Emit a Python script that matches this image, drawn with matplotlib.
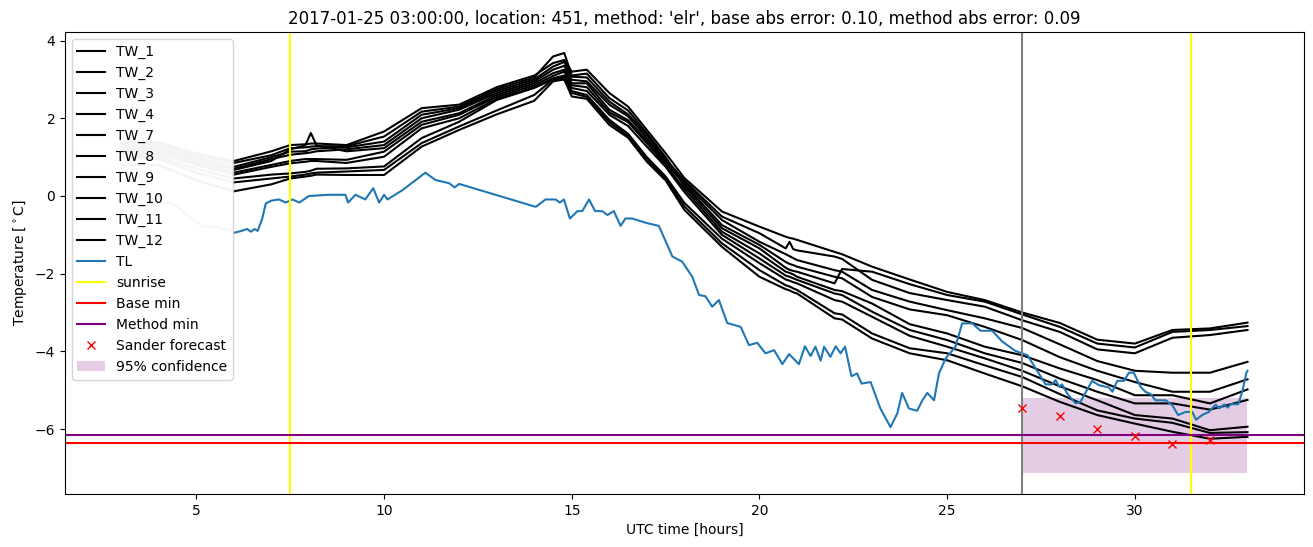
import matplotlib
matplotlib.use("Agg")
import matplotlib.pyplot as plt
import numpy as np

# ---------------- data ----------------
tw_hours = [3, 4, 5, 6, 7, 7.5, 7.9, 8.05, 8.2, 9, 10, 11, 12, 13, 14, 14.5, 14.8, 15, 15.4,
            16, 16.5, 17, 17.5, 18, 19, 20, 20.7, 20.8, 20.9, 21, 22, 22.2, 23, 24, 25, 26,
            27, 28, 29, 30, 31, 32, 33]

tw_1 = [1.40, 1.38, 1.10, 0.90, 1.15, 1.31, 1.33, 1.35, 1.35, 1.31, 1.66, 2.26, 2.35, 2.80, 3.10, 3.42, 3.50, 3.20, 3.25,
        2.65, 2.30, 1.70, 1.10, 0.46, -0.40, -0.79, -1.05, -1.08, -1.10, -1.13, -1.44, -1.50, -1.82, -2.15, -2.47, -2.68,
        -3.00, -3.27, -3.70, -3.80, -3.45, -3.41, -3.26]
tw_2 = [1.35, 1.33, 1.05, 0.85, 1.05, 1.23, 1.25, 1.27, 1.28, 1.28, 1.53, 2.17, 2.30, 2.75, 3.05, 3.59, 3.68, 3.10, 3.15,
        2.52, 2.20, 1.62, 1.00, 0.25, -0.83, -1.35, -1.85, -1.90, -1.93, -1.95, -2.25, -1.88, -1.95, -2.27, -2.55, -2.72,
        -3.05, -3.37, -3.80, -3.90, -3.50, -3.45, -3.35]
tw_3 = [1.30, 1.28, 1.00, 0.75, 1.00, 1.14, 1.15, 1.20, 1.22, 1.25, 1.40, 2.09, 2.26, 2.70, 3.00, 3.33, 3.45, 3.07, 3.05,
        2.43, 2.10, 1.57, 0.95, 0.40, -0.53, -0.96, -1.35, -1.18, -1.37, -1.40, -1.56, -1.62, -2.16, -2.50, -2.68, -2.85,
        -3.20, -3.50, -3.95, -4.05, -3.65, -3.58, -3.45]
tw_4 = [1.25, 1.22, 0.95, 0.70, 0.95, 1.06, 1.10, 1.12, 1.15, 1.20, 1.31, 2.00, 2.22, 2.65, 2.95, 3.25, 3.35, 2.99, 2.95,
        2.35, 2.05, 1.49, 0.90, 0.35, -0.62, -1.18, -1.50, -1.55, -1.60, -1.65, -1.91, -1.95, -2.42, -2.72, -2.94, -3.15,
        -3.40, -3.82, -4.25, -4.50, -4.55, -4.55, -4.27]
tw_7 = [1.20, 1.17, 0.90, 0.67, 0.90, 1.20, 1.30, 1.62, 1.30, 1.15, 1.23, 1.91, 2.13, 2.60, 2.90, 3.16, 3.25, 2.90, 2.90,
        2.22, 1.95, 1.42, 0.85, 0.30, -0.75, -1.26, -1.70, -1.75, -1.78, -1.82, -2.08, -2.12, -2.60, -2.92, -3.07, -3.37,
        -3.71, -4.15, -4.50, -4.79, -5.04, -5.04, -4.72]
tw_8 = [1.15, 1.12, 0.85, 0.60, 0.80, 0.90, 0.95, 0.95, 0.95, 0.93, 1.14, 1.83, 2.09, 2.55, 2.85, 3.09, 3.20, 2.85, 2.80,
        2.15, 1.90, 1.36, 0.80, 0.18, -0.92, -1.48, -1.95, -1.98, -2.02, -2.08, -2.42, -2.45, -2.77, -3.30, -3.54, -3.88,
        -4.10, -4.44, -4.74, -5.13, -5.13, -5.34, -4.98]
tw_9 = [1.10, 1.07, 0.80, 0.55, 0.75, 0.84, 0.88, 0.90, 0.90, 0.85, 1.01, 1.74, 2.00, 2.50, 2.80, 3.03, 3.10, 2.78, 2.70,
        2.09, 1.80, 1.27, 0.75, 0.10, -1.00, -1.61, -2.05, -2.08, -2.12, -2.16, -2.51, -2.55, -2.98, -3.45, -3.71, -4.05,
        -4.30, -4.70, -5.04, -5.34, -5.34, -5.50, -5.25]
tw_10 = [1.05, 1.00, 0.70, 0.45, 0.55, 0.58, 0.62, 0.65, 0.70, 0.71, 0.76, 1.49, 1.91, 2.47, 2.78, 3.00, 3.05, 2.70, 2.60,
         1.96, 1.60, 1.00, 0.50, -0.18, -1.10, -1.73, -2.15, -2.18, -2.22, -2.25, -2.68, -2.72, -3.11, -3.60, -3.88, -4.18,
         -4.50, -4.90, -5.26, -5.64, -5.73, -6.03, -5.94]
tw_11 = [1.00, 0.95, 0.60, 0.35, 0.45, 0.50, 0.55, 0.58, 0.60, 0.63, 0.67, 1.36, 1.79, 2.20, 2.60, 3.00, 3.00, 2.65, 2.55,
         1.90, 1.55, 0.93, 0.45, -0.27, -1.22, -1.91, -2.30, -2.33, -2.38, -2.42, -3.02, -3.05, -3.54, -3.92, -4.05, -4.36,
         -4.66, -5.10, -5.52, -5.73, -5.84, -6.10, -6.08]
tw_12 = [0.80, 0.80, 0.40, 0.12, 0.30, 0.45, 0.50, 0.52, 0.55, 0.54, 0.54, 1.27, 1.70, 2.10, 2.45, 2.95, 3.00, 2.56, 2.50,
         1.83, 1.50, 0.88, 0.40, -0.36, -1.31, -2.08, -2.40, -2.43, -2.48, -2.51, -3.15, -3.18, -3.67, -4.05, -4.23, -4.57,
         -4.90, -5.30, -5.64, -5.86, -6.07, -6.25, -6.20]

tw_labels = ["TW_1", "TW_2", "TW_3", "TW_4", "TW_7", "TW_8", "TW_9", "TW_10", "TW_11", "TW_12"]
tw_series = [tw_1, tw_2, tw_3, tw_4, tw_7, tw_8, tw_9, tw_10, tw_11, tw_12]

tl_hours = [3.0, 3.5, 4.0, 4.36, 4.7, 5.16, 5.5, 5.87, 6.0, 6.2, 6.35, 6.45, 6.55, 6.63, 6.75, 6.85, 7.0, 7.2, 7.38,
            7.56, 7.74, 8.0, 8.54, 8.97, 9.04, 9.24, 9.5, 9.71, 9.87, 10.0, 10.09, 10.49, 10.84, 11.1, 11.37, 11.73,
            11.88, 12.0, 14.04, 14.3, 14.57, 14.68, 14.79, 14.95, 15.15, 15.28, 15.46, 15.62, 15.81, 15.95, 16.12,
            16.3, 16.43, 16.61, 16.97, 17.32, 17.68, 17.94, 18.21, 18.39, 18.56, 18.74, 18.92, 19.14, 19.5, 19.72,
            19.94, 20.16, 20.39, 20.61, 20.79, 21.05, 21.21, 21.36, 21.49, 21.63, 21.72, 21.89, 22.03, 22.16, 22.28,
            22.45, 22.6, 22.72, 22.96, 23.22, 23.49, 23.67, 23.8, 23.98, 24.2, 24.34, 24.47, 24.65, 24.78, 24.96,
            25.22, 25.4, 25.67, 25.89, 26.2, 26.47, 26.82, 27.14, 27.44, 27.62, 27.8, 27.89, 27.98, 28.06, 28.2,
            28.42, 28.55, 28.68, 28.86, 29.04, 29.31, 29.4, 29.53, 29.71, 29.84, 29.97, 30.15, 30.28, 30.42, 30.55,
            30.82, 31.0, 31.15, 31.35, 31.53, 31.63, 31.79, 31.97, 32.15, 32.24, 32.38, 32.47, 32.55, 32.75, 32.86,
            32.97, 33.0]
tl_temp = [-0.28, -0.25, -0.2, -0.18, -0.45, -0.79, -0.8, -0.88, -0.95, -0.9, -0.85, -0.92, -0.85, -0.9, -0.6, -0.19,
           -0.12, -0.09, -0.17, -0.09, -0.17, 0.0, 0.03, 0.03, -0.17, 0.03, -0.09, 0.2, -0.17, 0.03, -0.09, 0.15, 0.41,
           0.6, 0.41, 0.33, 0.22, 0.31, -0.28, -0.09, -0.09, -0.17, -0.09, -0.58, -0.39, -0.39, -0.09, -0.39, -0.39,
           -0.49, -0.39, -0.77, -0.58, -0.58, -0.69, -0.77, -1.56, -1.69, -2.08, -2.55, -2.58, -2.85, -2.68, -3.27,
           -3.37, -3.84, -3.78, -4.05, -3.97, -4.33, -4.07, -4.33, -3.87, -4.12, -3.88, -4.24, -3.88, -4.14, -3.87,
           -4.05, -3.88, -4.64, -4.57, -4.83, -4.79, -5.47, -5.95, -5.6, -5.07, -5.47, -5.53, -5.26, -5.07, -5.26,
           -4.57, -4.18, -3.88, -3.28, -3.28, -3.47, -3.47, -3.75, -3.99, -4.1, -4.57, -4.85, -4.85, -4.74, -4.91,
           -4.85, -5.09, -5.34, -5.3, -5.07, -4.76, -4.87, -4.93, -5.04, -4.76, -4.76, -4.55, -4.55, -4.91, -5.04,
           -5.1, -5.26, -5.26, -5.39, -5.64, -5.56, -5.56, -5.76, -5.64, -5.56, -5.37, -5.47, -5.37, -5.45, -5.36,
           -5.36, -5.04, -4.55, -4.5]

forecast_start = 6.0
sunrise_hours = [7.5, 31.5]
issue_hour = 27.0
base_min = -6.36
method_min = -6.15
sander_hours = [27, 28, 29, 30, 31, 32]
sander_temp = [-5.47, -5.67, -6.01, -6.19, -6.38, -6.27]
conf_hours = [27, 33]
conf_low = [-7.13, -7.13]
conf_high = [-5.21, -5.21]

title = ("2017-01-25 03:00:00, location: 451, method: 'elr', base abs error: 0.10, "
         "method abs error: 0.09")

# ---------------- plot ----------------
fig = plt.figure(figsize=(13.13, 5.47), dpi=100)
ax = fig.add_axes([0.0495, 0.097, 0.9435, 0.8445])

tw_h = np.array(tw_hours)
pre = tw_h <= forecast_start
post = tw_h >= forecast_start
for lab, vals in zip(tw_labels, tw_series):
    v = np.array(vals)
    ax.plot(tw_h[pre], v[pre], color="#c8c8c8")
    ax.plot(tw_h[post], v[post], color="black", label=lab)

tl_h = np.array(tl_hours)
tl_v = np.array(tl_temp)
ax.plot(tl_h[tl_h <= forecast_start], tl_v[tl_h <= forecast_start], color="tab:blue", alpha=0.25)
ax.plot(tl_h[tl_h >= forecast_start], tl_v[tl_h >= forecast_start], color="tab:blue", label="TL")

ax.axvline(sunrise_hours[0], color="yellow", label="sunrise")
ax.axvline(sunrise_hours[1], color="yellow")
ax.axvline(issue_hour, color="gray")
ax.axhline(base_min, color="red", label="Base min")
ax.axhline(method_min, color="purple", label="Method min")
ax.plot(sander_hours, sander_temp, "rx", label="Sander forecast")
ax.fill_between(conf_hours, conf_low, conf_high, color="purple", alpha=0.2, linewidth=0,
                label="95% confidence")

ax.set_title(title)
ax.set_xlabel("UTC time [hours]")
ax.set_ylabel(r"Temperature [$^\circ$C]")
ax.legend(loc="upper left")

fig.savefig("out.png", dpi=100)
